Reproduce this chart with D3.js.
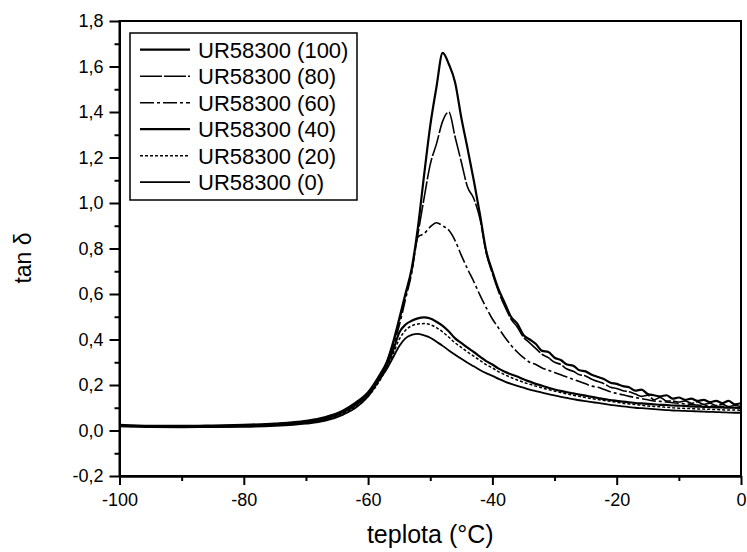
<!DOCTYPE html>
<html>
<head>
<meta charset="utf-8">
<script src="https://cdn.jsdelivr.net/npm/d3@7"></script>
<style>
  body { margin: 0; background: #fff; }
  text { font-family: "Liberation Sans", Arial, sans-serif; fill: #000; }
</style>
</head>
<body>
<svg width="747" height="552"></svg>
<script>
// temperature grid (°C)
var temps = [-100,-95,-90,-85,-80,-75,-70,-67,-64,-62,-60,-58,
  -57,-56,-55,-54,-53,-52,-51,-50,-49,-48,-47,-46,-45,-44,-43,-42,-41,-40,
  -39,-38,-37,-36,-35,-34,-33,-32,-31,-30,-29,-28,-27,-26,-25,-24,-23,-22,-21,-20,
  -19,-18,-17,-16,-15,-14,-13,-12,-11,-10,-9,-8,-7,-6,-5,-4,-3,-2,-1,0];

var ur100 = [0.025,0.02,0.02,0.022,0.025,0.03,0.042,0.058,0.088,0.122,0.168,0.25,
  0.30,0.385,0.49,0.60,0.71,0.89,1.12,1.34,1.51,1.66,1.61,1.53,1.375,1.24,1.10,0.95,0.79,0.70,
  0.62,0.56,0.50,0.47,0.42,0.40,0.38,0.35,0.345,0.32,0.31,0.29,0.285,0.265,0.26,0.245,0.235,0.225,0.21,0.205,
  0.195,0.19,0.175,0.18,0.16,0.155,0.15,0.155,0.14,0.145,0.135,0.14,0.13,0.135,0.125,0.13,0.12,0.13,0.115,0.12];

var ur80 = [0.022,0.018,0.018,0.02,0.022,0.028,0.04,0.055,0.085,0.118,0.165,0.245,
  0.30,0.38,0.48,0.59,0.70,0.86,1.02,1.17,1.26,1.36,1.40,1.29,1.18,1.07,1.02,0.93,0.78,0.69,
  0.61,0.545,0.49,0.455,0.41,0.385,0.36,0.335,0.32,0.30,0.29,0.27,0.26,0.245,0.24,0.225,0.215,0.205,0.19,0.185,
  0.175,0.17,0.16,0.15,0.155,0.135,0.145,0.13,0.13,0.125,0.13,0.12,0.125,0.115,0.12,0.11,0.115,0.105,0.11,0.105];

var ur60 = [0.02,0.017,0.017,0.019,0.021,0.027,0.038,0.052,0.082,0.115,0.16,0.24,
  0.29,0.37,0.46,0.575,0.69,0.85,0.865,0.895,0.913,0.90,0.88,0.835,0.77,0.71,0.655,0.595,0.54,0.49,
  0.45,0.41,0.375,0.345,0.32,0.30,0.29,0.275,0.265,0.255,0.245,0.235,0.225,0.215,0.205,0.195,0.19,0.18,0.17,0.163,
  0.157,0.15,0.145,0.14,0.135,0.13,0.128,0.125,0.122,0.12,0.117,0.115,0.112,0.11,0.108,0.106,0.104,0.102,0.1,0.1];

var ur40 = [0.022,0.018,0.017,0.018,0.02,0.025,0.036,0.05,0.08,0.112,0.16,0.235,
  0.285,0.35,0.43,0.465,0.482,0.493,0.497,0.492,0.478,0.46,0.435,0.405,0.385,0.364,0.345,0.325,0.305,0.29,
  0.272,0.258,0.247,0.237,0.225,0.215,0.205,0.197,0.188,0.18,0.174,0.168,0.163,0.158,0.153,0.148,0.143,0.138,0.134,0.13,
  0.127,0.124,0.121,0.119,0.117,0.115,0.113,0.112,0.11,0.109,0.108,0.106,0.105,0.104,0.103,0.102,0.101,0.1,0.1,0.099];

var ur20 = [0.02,0.017,0.016,0.017,0.019,0.024,0.034,0.047,0.075,0.105,0.15,0.225,
  0.275,0.335,0.40,0.44,0.46,0.468,0.47,0.465,0.452,0.433,0.41,0.385,0.365,0.345,0.327,0.308,0.29,0.275,
  0.258,0.245,0.233,0.222,0.212,0.203,0.195,0.187,0.18,0.173,0.167,0.161,0.155,0.15,0.145,0.14,0.136,0.132,0.128,0.124,
  0.12,0.117,0.114,0.111,0.108,0.106,0.104,0.102,0.1,0.098,0.097,0.096,0.095,0.094,0.093,0.092,0.091,0.09,0.09,0.089];

var ur0 = [0.018,0.015,0.014,0.015,0.016,0.02,0.03,0.042,0.07,0.10,0.15,0.23,
  0.27,0.32,0.37,0.405,0.42,0.425,0.418,0.408,0.39,0.372,0.352,0.333,0.315,0.298,0.282,0.266,0.252,0.24,
  0.227,0.215,0.205,0.196,0.188,0.18,0.173,0.166,0.16,0.154,0.148,0.143,0.138,0.133,0.129,0.125,0.121,0.117,0.113,0.109,
  0.106,0.103,0.1,0.098,0.096,0.094,0.092,0.09,0.088,0.087,0.086,0.085,0.084,0.083,0.082,0.081,0.08,0.079,0.078,0.078];

var seriesNames = ["UR58300 (100)", "UR58300 (80)", "UR58300 (60)", "UR58300 (40)", "UR58300 (20)", "UR58300 (0)"];
var seriesValues = [ur100, ur80, ur60, ur40, ur20, ur0];

var xTicks = [-100, -80, -60, -40, -20, 0];
var xMinor = [-90, -70, -50, -30, -10];
var yTicks = [-0.2, 0, 0.2, 0.4, 0.6, 0.8, 1.0, 1.2, 1.4, 1.6, 1.8];
var yMinor = [-0.1, 0.1, 0.3, 0.5, 0.7, 0.9, 1.1, 1.3, 1.5, 1.7];

var styles = [
  {w: 2.2, dash: null},
  {w: 1.6, dash: "22,2"},
  {w: 1.6, dash: "14,3,3,3"},
  {w: 2.2, dash: null},
  {w: 1.5, dash: "3,2"},
  {w: 1.8, dash: null}
];

var svg = d3.select("svg"),
    margin = {top: 21, right: 6, bottom: 76, left: 119.5},
    width = +svg.attr("width") - margin.left - margin.right,
    height = +svg.attr("height") - margin.top - margin.bottom,
    g = svg.append("g").attr("transform", "translate(" + margin.left + "," + margin.top + ")");

var x = d3.scaleLinear().domain([-100, 0]).range([0, width]);
var y = d3.scaleLinear().domain([-0.2, 1.8]).range([height, 0]);

// plain hyphen and decimal comma as in the original
var comma = function(d) { return d3.format(".1f")(d).replace(".", ",").replace("\u2212", "-"); };
var plain = function(d) { return String(d); };

svg.append("defs").append("clipPath")
    .attr("id", "clip")
    .append("rect")
    .attr("width", width)
    .attr("height", height);

var line = d3.line()
    .x(function(d) { return x(d[0]); })
    .y(function(d) { return y(d[1]); })
    .curve(d3.curveMonotoneX);

g.append("g")
    .attr("clip-path", "url(#clip)")
    .selectAll("path")
    .data(seriesValues)
    .enter().append("path")
    .attr("fill", "none")
    .attr("stroke", "#000")
    .attr("stroke-width", function(d, i) { return styles[i].w; })
    .attr("stroke-dasharray", function(d, i) { return styles[i].dash; })
    .attr("stroke-linejoin", "round")
    .attr("d", function(vals) { return line(temps.map(function(t, j) { return [t, vals[j]]; })); });

// frame
g.append("rect")
    .attr("width", width)
    .attr("height", height)
    .attr("fill", "none")
    .attr("stroke", "#000")
    .attr("stroke-width", 2);

// axes
g.append("g")
    .attr("transform", "translate(0," + height + ")")
    .call(d3.axisBottom(x).tickValues(xTicks).tickSize(9).tickSizeOuter(0).tickPadding(8).tickFormat(plain));
g.append("g")
    .attr("transform", "translate(0," + height + ")")
    .call(d3.axisBottom(x).tickValues(xMinor).tickSize(5).tickSizeOuter(0).tickFormat(""));

g.append("g")
    .call(d3.axisLeft(y).tickValues(yTicks).tickSize(10).tickSizeOuter(0).tickPadding(6).tickFormat(comma));
g.append("g")
    .call(d3.axisLeft(y).tickValues(yMinor).tickSize(5).tickSizeOuter(0).tickFormat(""));

g.selectAll(".domain").attr("stroke-width", 2);
g.selectAll(".tick line").attr("stroke-width", 2);
g.selectAll(".tick text").attr("font-size", 18).attr("font-family", "'Liberation Sans', Arial, sans-serif");

// axis titles
svg.append("text")
    .attr("x", margin.left + width / 2)
    .attr("y", 543)
    .attr("text-anchor", "middle")
    .attr("font-size", 25)
    .text("teplota (°C)");

svg.append("text")
    .attr("transform", "translate(31,258) rotate(-90)")
    .attr("text-anchor", "middle")
    .attr("font-size", 23)
    .text("tan δ");

// legend
var legend = svg.append("g");
legend.append("rect")
    .attr("x", 130).attr("y", 33)
    .attr("width", 227).attr("height", 167)
    .attr("fill", "#fff")
    .attr("stroke", "#000")
    .attr("stroke-width", 1.5);

var rows = legend.selectAll(".row")
    .data(seriesNames)
    .enter().append("g")
    .attr("class", "row")
    .attr("transform", function(d, i) { return "translate(0," + (49.7 + i * 26.5) + ")"; });

rows.append("line")
    .attr("x1", 140).attr("x2", 190)
    .attr("stroke", "#000")
    .attr("stroke-width", function(d, i) { return styles[i].w; })
    .attr("stroke-dasharray", function(d, i) { return styles[i].dash; });

rows.append("text")
    .attr("x", 198)
    .attr("dy", "0.36em")
    .attr("font-size", 22)
    .text(function(d) { return d; });
</script>
</body>
</html>
